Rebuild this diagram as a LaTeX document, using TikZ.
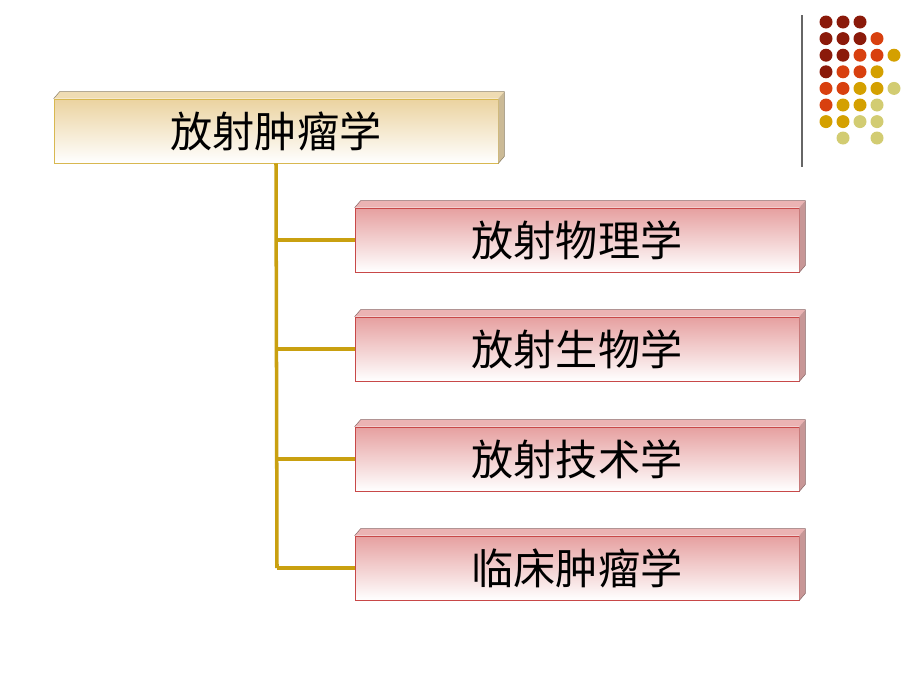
\documentclass[tikz,border=0pt]{standalone}
\usepackage{fontspec}
\newfontfamily\cjk{Noto Sans CJK SC}
\definecolor{linkgold}{HTML}{C9A010}
\definecolor{headedge}{HTML}{D8B850}
\definecolor{headfill}{HTML}{EBD3A0}
\definecolor{subedge}{HTML}{C84848}
\definecolor{subfill}{HTML}{E6A0A0}
\definecolor{dotA}{HTML}{8B1A0A}
\definecolor{dotB}{HTML}{D8400F}
\definecolor{dotC}{HTML}{D4A000}
\definecolor{dotD}{HTML}{D2CC72}
\tikzset{
  headbox/.style={draw=headedge, top color=headfill, bottom color=white, rectangle, minimum width=444*0.02cm, minimum height=64*0.02cm, inner sep=0pt, font=\cjk\fontsize{24}{28}\selectfont},
  subbox/.style={draw=subedge, top color=subfill, bottom color=white, rectangle, minimum width=444*0.02cm, minimum height=64*0.02cm, inner sep=0pt, font=\cjk\fontsize{24}{28}\selectfont},
  link/.style={draw=linkgold, line width=2pt},
  dot/.style={circle, inner sep=0pt, minimum size=13*0.02cm}
}
% bevel on top and right side
\newcommand{\bevel}[3]{%
  \fill[#2] (#1.north west) -- ++(6,-7) -- ($(#1.north east)+(6,-7)$) -- (#1.north east) -- cycle;
  \fill[#3] (#1.north east) -- ++(6,-7) -- ($(#1.south east)+(6,-7)$) -- (#1.south east) -- cycle;
  \draw[#3!70!black, line width=0.3pt] (#1.north west) -- ++(6,-7) -- ($(#1.north east)+(6,-7)$) -- ($(#1.south east)+(6,-7)$) -- (#1.south east);
}
\usetikzlibrary{positioning,calc}
\begin{document}
\begin{tikzpicture}[x=0.02cm, y=-0.02cm]
  \useasboundingbox (0,0) rectangle (920,690);
  % header and subjects
  \node[headbox] (root) at (276,131) {放射肿瘤学};
  \node[subbox] (phys) at (577,240) {放射物理学};
  \node[subbox] (bio)  at (577,349) {放射生物学};
  \node[subbox] (tech) at (577,459) {放射技术学};
  \node[subbox] (clin) at (577,568) {临床肿瘤学};
  \bevel{root}{headfill!80!white}{headfill!70!gray}
  \foreach \n in {phys,bio,tech,clin}
    \bevel{\n}{subfill!80!white}{subfill!70!gray}
  % connectors
  \coordinate (trunk) at (277,568);
  \draw[link] (root.south) -- (trunk);
  \foreach \n in {phys,bio,tech,clin}
    \draw[link] (\n.west) -- (\n.west -| trunk);
  % corner decoration
  \draw[gray!80!black, line width=0.8pt] (802,15) -- (802,167);
  \foreach \row/\cols in {0/{A,A,A},1/{A,A,A,B},2/{A,A,B,B,C},3/{A,B,B,C},4/{B,B,C,C,D},5/{B,C,C,D},6/{C,C,D,D}}
    \foreach \c [count=\i from 0] in \cols
      \node[dot, fill=dot\c] at (826+17*\i,22+16.6*\row) {};
  \node[dot, fill=dotD] at (843,138) {};
  \node[dot, fill=dotD] at (877,138) {};
\end{tikzpicture}
\end{document}
